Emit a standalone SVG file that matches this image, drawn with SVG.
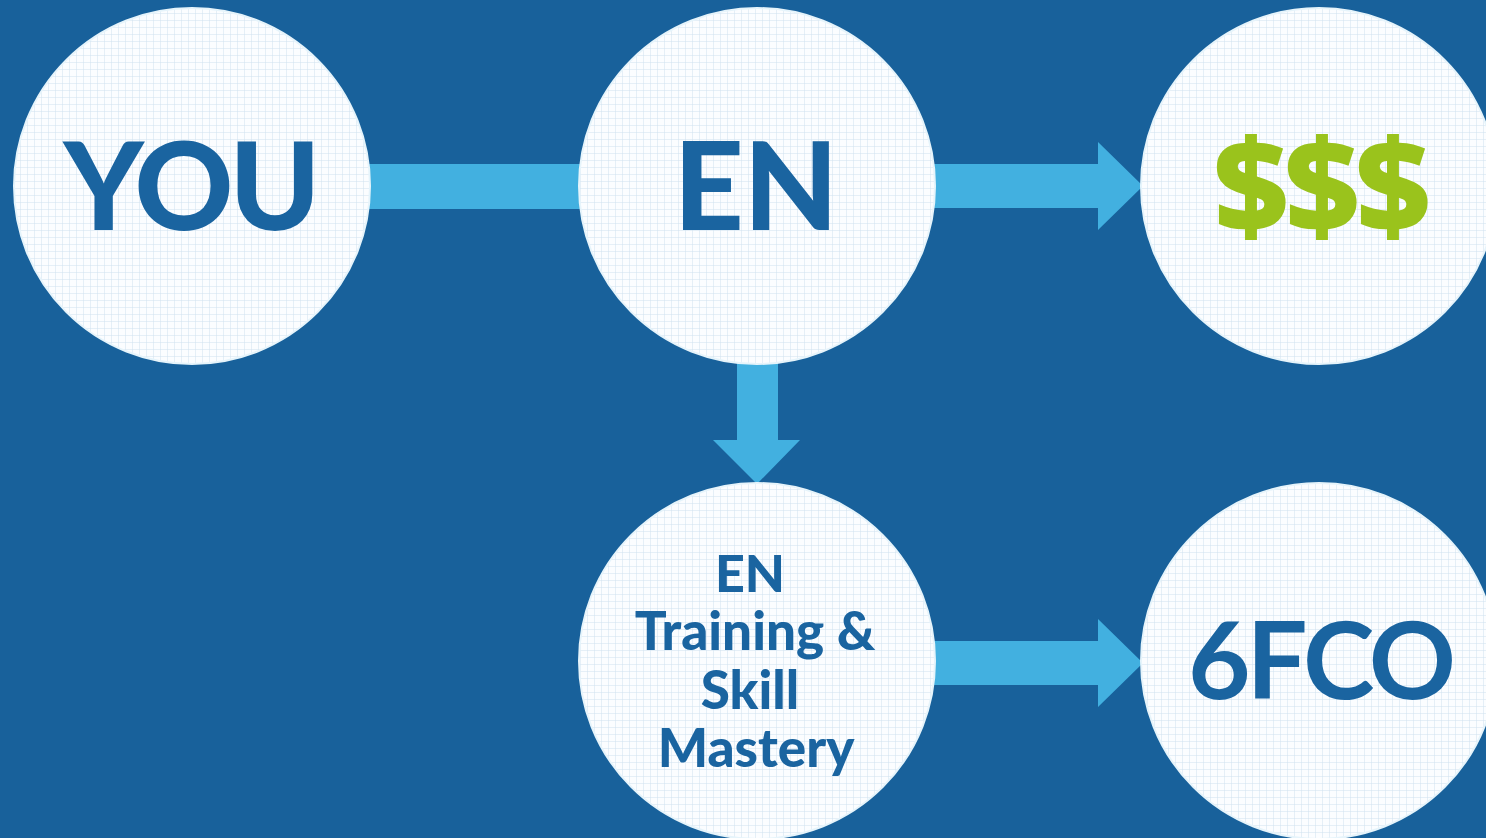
<svg xmlns="http://www.w3.org/2000/svg" width="1486" height="838" viewBox="0 0 1486 838">
<defs>
<pattern id="grid" width="7" height="7" patternUnits="userSpaceOnUse">
<rect width="7" height="7" fill="#fbfdff"/>
<path d="M7 0V7M0 7H7" stroke="#cfe1f0" stroke-width="1" fill="none"/>
</pattern>
<style>
.node{fill:url(#grid);stroke:#e6f4fb;stroke-width:2}
.lbl{font-family:Lato,"Open Sans","Liberation Sans",sans-serif;font-weight:900;fill:#1a64a0;text-anchor:middle}
.arrow{fill:#42b0e0}
</style>
</defs>
<rect width="1486" height="838" fill="#18619b"/>
<g id="connectors">
<rect class="arrow" x="360" y="164" width="230" height="45"/>
<path class="arrow" d="M925 164H1098V142L1143 186L1098 230V208H925Z"/>
<path class="arrow" d="M737 355H778V440H800L757 484L713 440H737Z"/>
<path class="arrow" d="M925 641H1098V619L1143 663L1098 707V685H925Z"/>
</g>
<g id="you">
<circle class="node" cx="192" cy="186" r="178"/>
<text class="lbl" x="190" y="230" font-size="122" letter-spacing="-4">YOU</text>
</g>
<g id="en">
<circle class="node" cx="757" cy="186" r="178"/>
<text class="lbl" x="756" y="230" font-size="122">EN</text>
</g>
<g id="money">
<circle class="node" cx="1319" cy="186" r="178"/>
<text class="lbl" x="1320" y="232" font-size="130" style="fill:#9ac31c;font-family:'Open Sans',Lato,sans-serif;font-weight:800" letter-spacing="-4">$$$</text>
</g>
<g id="training">
<circle class="node" cx="757" cy="661" r="178"/>
<text class="lbl" x="750" y="592" font-size="52">EN</text>
<text class="lbl" x="755" y="650" font-size="53">Training &amp;</text>
<text class="lbl" x="750" y="709" font-size="53">Skill</text>
<text class="lbl" x="756" y="767" font-size="53">Mastery</text>
</g>
<g id="sixfco">
<circle class="node" cx="1319" cy="661" r="178"/>
<text class="lbl" x="1320" y="699" font-size="108" style="font-weight:bold" letter-spacing="-4">6FCO</text>
</g>
</svg>
